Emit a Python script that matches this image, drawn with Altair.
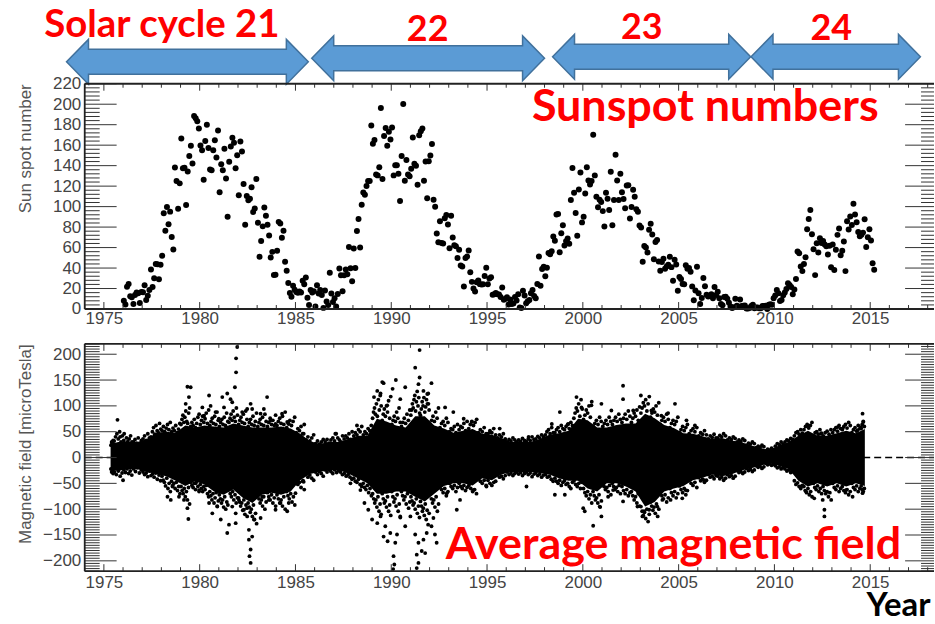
import altair as alt
import pandas as pd

# ================= DATA =================
cycle_labels = ["Solar cycle 21", "22", "23", "24"]
cycle_start = [1973.05, 1985.85, 1998.42, 2008.78]
cycle_end = [1985.67, 1998.0, 2008.76, 2017.62]

# monthly sunspot numbers (Jan..Dec)
sunspot_1976_1985 = {
    1976: [8.1, 4.3, 21.7, 24.5, 12.5, 11.4, 5.0, 13.6, 16.2, 15.5, 5.8, 16.6],
    1977: [16.4, 23.1, 8.7, 12.9, 18.6, 38.5, 21.4, 30.1, 44.0, 43.8, 29.1, 43.2],
    1978: [51.9, 93.6, 76.5, 99.7, 82.7, 95.1, 70.4, 58.1, 138.2, 125.1, 97.9, 122.7],
    1979: [166.6, 137.5, 138.0, 101.5, 134.4, 149.5, 159.4, 142.2, 188.4, 186.2, 183.3, 176.3],
    1980: [159.6, 155.0, 126.2, 164.1, 179.9, 157.3, 136.3, 135.4, 155.0, 164.7, 147.9, 174.4],
    1981: [114.0, 141.3, 135.5, 156.4, 127.5, 90.0, 143.8, 158.7, 167.3, 162.4, 137.5, 150.1],
    1982: [111.2, 163.6, 153.8, 122.0, 82.2, 110.4, 106.1, 107.6, 118.8, 94.7, 98.1, 127.0],
    1983: [84.3, 51.0, 66.5, 80.7, 99.2, 91.1, 82.2, 71.8, 50.3, 55.8, 33.3, 33.4],
    1984: [57.0, 85.1, 83.5, 69.7, 76.4, 46.1, 37.4, 25.5, 15.7, 12.0, 22.8, 18.7],
    1985: [16.5, 15.9, 17.2, 16.2, 27.5, 24.2, 30.7, 11.1, 3.9, 18.6, 16.2, 17.3],
}
sunspot_1986_1995 = {
    1986: [2.5, 23.2, 15.1, 18.5, 13.7, 1.1, 18.1, 7.4, 3.8, 35.4, 15.2, 6.8],
    1987: [10.4, 2.4, 14.7, 39.6, 33.0, 17.4, 33.0, 38.7, 33.9, 60.6, 39.9, 27.1],
    1988: [59.0, 40.0, 76.2, 88.0, 60.1, 101.8, 113.8, 111.6, 120.1, 125.1, 125.1, 179.2],
    1989: [161.3, 165.1, 131.4, 130.5, 138.5, 196.2, 126.9, 168.9, 176.7, 159.4, 173.0, 165.5],
    1990: [177.3, 130.5, 140.3, 140.3, 132.2, 105.4, 149.4, 200.3, 125.2, 145.5, 131.4, 129.7],
    1991: [136.9, 167.5, 141.9, 140.0, 121.3, 169.7, 173.7, 176.3, 125.3, 144.1, 108.2, 144.4],
    1992: [150.0, 161.1, 106.7, 99.8, 73.8, 65.2, 85.7, 64.5, 63.9, 88.7, 91.8, 82.6],
    1993: [59.3, 91.0, 69.8, 62.2, 61.3, 49.8, 57.9, 42.4, 41.6, 22.0, 49.9, 51.3],
    1994: [57.2, 35.8, 26.5, 20.0, 17.2, 26.1, 27.9, 24.3, 24.0, 24.1, 32.3, 40.3],
    1995: [24.2, 29.9, 31.1, 14.0, 14.5, 15.6, 14.5, 14.3, 11.8, 21.1, 9.0, 10.0],
}
sunspot_1996_2005 = {
    1996: [11.5, 4.4, 9.2, 4.8, 5.5, 11.8, 8.2, 14.4, 1.6, 0.9, 17.9, 13.3],
    1997: [5.7, 7.6, 8.7, 15.5, 18.5, 12.7, 10.4, 24.4, 51.3, 22.8, 39.0, 41.2],
    1998: [31.9, 40.3, 54.8, 53.4, 56.3, 70.7, 66.6, 92.2, 92.9, 55.5, 74.0, 81.9],
    1999: [62.0, 66.3, 68.8, 63.7, 106.4, 137.7, 113.5, 93.7, 71.5, 116.7, 133.2, 84.6],
    2000: [90.1, 112.9, 138.5, 125.5, 121.6, 124.9, 170.1, 130.5, 109.7, 99.4, 106.8, 104.4],
    2001: [95.6, 80.6, 113.5, 107.7, 96.6, 134.0, 81.8, 106.4, 150.7, 125.5, 106.5, 132.2],
    2002: [114.1, 107.4, 98.4, 120.7, 120.8, 88.3, 99.6, 116.4, 109.6, 97.5, 95.0, 81.6],
    2003: [79.5, 46.2, 61.5, 60.0, 55.2, 77.4, 83.3, 72.7, 48.7, 65.5, 67.3, 46.5],
    2004: [37.3, 45.8, 49.1, 39.3, 41.5, 43.2, 51.1, 40.9, 27.7, 48.0, 43.5, 17.9],
    2005: [31.3, 29.2, 24.5, 24.2, 42.7, 39.3, 40.1, 36.4, 22.1, 8.5, 18.0, 41.2],
}
sunspot_2006_2015 = {
    2006: [15.4, 5.0, 10.8, 30.2, 22.2, 13.9, 12.2, 12.9, 14.4, 10.4, 21.5, 13.6],
    2007: [16.9, 10.6, 4.8, 3.7, 11.7, 12.0, 10.0, 6.2, 2.4, 0.9, 1.7, 10.1],
    2008: [3.3, 2.1, 9.3, 2.9, 3.2, 3.4, 0.5, 0.5, 1.1, 2.9, 4.1, 0.8],
    2009: [1.5, 1.4, 0.7, 0.8, 2.9, 2.9, 3.2, 0.0, 4.2, 4.6, 4.2, 10.6],
    2010: [13.1, 18.6, 15.4, 7.9, 8.8, 13.5, 16.1, 19.6, 25.2, 23.5, 21.6, 14.5],
    2011: [19.0, 29.4, 56.2, 54.4, 41.6, 37.0, 43.9, 50.6, 78.0, 88.0, 96.7, 73.0],
    2012: [58.3, 33.1, 64.2, 55.2, 69.0, 64.5, 66.5, 63.0, 61.4, 53.3, 61.8, 40.8],
    2013: [62.9, 38.0, 57.9, 72.4, 78.7, 52.5, 57.0, 66.0, 37.0, 85.6, 77.6, 90.3],
    2014: [82.0, 102.8, 92.2, 84.7, 75.2, 71.0, 72.4, 74.6, 87.6, 60.6, 70.1, 78.0],
    2015: [67.0, 44.8, 38.4],
}

# magnetic field: black core of the daily cloud, per half year (centre year, lower, upper), microTesla
mag_core_c21 = [
    (1975.35, -24, 26), (1975.75, -26, 30), (1976.25, -22, 30), (1976.75, -22, 30),
    (1977.25, -28, 36), (1977.75, -32, 48), (1978.25, -36, 50), (1978.75, -45, 48),
    (1979.25, -55, 62), (1979.75, -46, 58), (1980.25, -52, 62), (1980.75, -66, 60),
    (1981.25, -72, 58), (1981.75, -62, 66), (1982.25, -78, 62), (1982.75, -88, 58),
    (1983.25, -72, 58), (1983.75, -68, 58), (1984.25, -72, 60), (1984.75, -66, 56),
    (1985.25, -44, 46), (1985.75, -32, 32),
]
mag_core_c22 = [
    (1986.25, -28, 26), (1986.75, -24, 30), (1987.25, -24, 30), (1987.75, -31, 36),
    (1988.25, -40, 42), (1988.75, -50, 42), (1989.25, -70, 75), (1989.75, -70, 70),
    (1990.25, -66, 62), (1990.75, -66, 58), (1991.25, -76, 80), (1991.75, -85, 80),
    (1992.25, -70, 62), (1992.75, -55, 56), (1993.25, -50, 48), (1993.75, -50, 52),
    (1994.25, -54, 55), (1994.75, -40, 46), (1995.25, -44, 44), (1995.75, -33, 38),
]
mag_core_c23 = [
    (1996.25, -28, 30), (1996.75, -28, 30), (1997.25, -28, 30), (1997.75, -30, 36),
    (1998.25, -33, 44), (1998.75, -40, 47), (1999.25, -45, 52), (1999.75, -45, 75),
    (2000.25, -60, 72), (2000.75, -66, 58), (2001.25, -50, 58), (2001.75, -50, 63),
    (2002.25, -56, 66), (2002.75, -66, 66), (2003.25, -95, 85), (2003.75, -86, 76),
    (2004.25, -66, 63), (2004.75, -60, 57), (2005.25, -55, 47), (2005.75, -44, 46),
    (2006.25, -39, 41), (2006.75, -33, 36),
]
mag_core_c24 = [
    (2007.25, -36, 38), (2007.75, -33, 33), (2008.25, -25, 30), (2008.75, -21, 24),
    (2009.25, -16, 19), (2009.75, -11, 13), (2010.25, -16, 24), (2010.75, -22, 30),
    (2011.25, -45, 42), (2011.75, -56, 52), (2012.25, -50, 42), (2012.75, -56, 42),
    (2013.25, -50, 47), (2013.75, -56, 52), (2014.25, -50, 47), (2014.72, -55, 55),
]
MAG_END = 2014.72  # last day of the magnetic-field record

# magnetic field: ragged edge of the cloud, per half-year bin start: (upper days, lower days)
mag_edge_c21 = {
    1975.35: ([24, 30, 27, 33], [-22, -28, -25, -31]),
    1975.5: ([32, 40, 46, 36, 50, 30, 42], [-28, -33, -26, -36, -30]),
    1976.0: ([33, 28, 38, 31, 36, 42, 30], [-24, -29, -22, -31, -26, -34]),
    1976.5: ([30, 35, 28, 38, 26, 33], [-22, -27, -20, -30, -24]),
    1977.0: ([36, 42, 33, 46, 38, 40], [-28, -33, -30, -37, -26, -35]),
    1977.5: ([50, 58, 45, 62, 52, 48, 66, 55], [-32, -38, -30, -42, -34, -45]),
    1978.0: ([52, 60, 50, 57, 64, 54, 68], [-36, -44, -48, -55, -40, -60, -50, -66]),
    1978.5: ([50, 57, 52, 62, 48, 55, 66], [-46, -54, -50, -60, -48, -64, -56, -70]),
    1979.0: ([64, 74, 82, 68, 78, 90, 70, 66, 86, 96], [-56, -64, -70, -60, -76, -66, -82, -58, -90]),
    1979.5: ([60, 68, 62, 74, 58, 66, 78, 84], [-48, -54, -58, -50, -62, -46, -56, -66]),
    1980.0: ([64, 72, 80, 68, 75, 86, 66, 92], [-52, -60, -66, -56, -62, -54, -70, -76]),
    1980.5: ([62, 70, 76, 66, 80, 64, 88, 72], [-66, -74, -82, -70, -88, -78, -68, -94, -84]),
    1981.0: ([60, 68, 74, 64, 78, 62, 86, 70], [-72, -80, -88, -82, -96, -76, -100, -86, -92]),
    1981.5: ([68, 76, 84, 72, 90, 78, 70, 96, 82], [-62, -70, -76, -66, -82, -72, -88, -78]),
    1982.0: ([64, 72, 78, 68, 84, 66, 90, 74], [-78, -86, -94, -88, -102, -82, -110, -92, -98]),
    1982.5: ([60, 68, 74, 64, 80, 62, 70, 86], [-88, -96, -106, -100, -114, -92, -120, -108, -128]),
    1983.0: ([60, 68, 74, 64, 78, 62, 84, 70], [-72, -80, -88, -82, -94, -76, -100, -86]),
    1983.5: ([60, 68, 76, 64, 72, 62, 82], [-68, -76, -82, -72, -88, -78, -94]),
    1984.0: ([62, 70, 76, 66, 80, 64, 88], [-72, -80, -88, -82, -94, -76, -100]),
    1984.5: ([58, 66, 72, 62, 70, 78], [-66, -74, -80, -70, -86, -76, -92]),
    1985.0: ([48, 56, 52, 60, 46, 64], [-44, -52, -48, -58, -46, -62]),
    1985.5: ([34, 40, 32, 38, 44], [-32, -38, -34, -40, -44]),
}
mag_edge_c22 = {
    1986.0: ([27, 32, 26, 30, 35], [-28, -33, -27, -31, -36]),
    1986.5: ([30, 35, 28, 34, 38], [-24, -28, -23, -27, -31]),
    1987.0: ([32, 46, 38, 34, 30, 42], [-24, -29, -25, -28, -33]),
    1987.5: ([36, 42, 38, 46, 35, 50], [-31, -36, -33, -38, -42]),
    1988.0: ([42, 48, 44, 54, 50, 60], [-40, -46, -48, -42, -52, -56]),
    1988.5: ([44, 50, 46, 56, 52, 62], [-50, -58, -62, -54, -68, -60, -74]),
    1989.0: ([76, 88, 96, 84, 104, 80, 112, 92, 120, 100], [-70, -80, -88, -82, -96, -76, -104, -90, -110]),
    1989.5: ([72, 84, 94, 80, 100, 88, 110, 76, 118], [-70, -80, -88, -84, -96, -76, -104, -92, -112]),
    1990.0: ([64, 72, 80, 70, 88, 76, 96, 68], [-66, -76, -86, -80, -94, -72, -104, -90, -116]),
    1990.5: ([60, 68, 76, 66, 84, 72, 92], [-66, -74, -82, -76, -90, -70, -98, -86]),
    1991.0: ([82, 92, 104, 96, 112, 120, 90, 108, 128, 100, 116, 86], [-76, -84, -92, -88, -100, -80, -108, -94, -116]),
    1991.5: ([82, 94, 108, 100, 116, 88, 98, 112, 104, 124, 92], [-85, -94, -104, -98, -112, -90, -120, -102, -130, -108]),
    1992.0: ([64, 72, 80, 70, 88, 76, 96], [-70, -80, -88, -82, -96, -76, -104, -90]),
    1992.5: ([58, 66, 70, 62, 76, 68], [-55, -62, -68, -60, -74, -66]),
    1993.0: ([50, 56, 54, 60, 48, 64], [-50, -56, -60, -54, -66, -58]),
    1993.5: ([54, 60, 58, 66, 52, 70], [-50, -56, -60, -54, -64, -58]),
    1994.0: ([56, 64, 70, 62, 68, 74], [-54, -60, -66, -62, -70]),
    1994.5: ([48, 54, 50, 58, 46], [-40, -46, -50, -44, -54]),
    1995.0: ([46, 52, 48, 56, 44], [-44, -50, -54, -48, -46]),
    1995.5: ([38, 44, 40, 46, 36], [-33, -38, -36, -41, -35]),
}
mag_edge_c23 = {
    1996.0: ([30, 35, 32, 38, 34], [-28, -33, -30, -35, -31]),
    1996.5: ([30, 34, 31, 37, 33], [-28, -32, -29, -35, -31]),
    1997.0: ([31, 36, 33, 40, 35], [-28, -33, -30, -37, -32]),
    1997.5: ([36, 41, 38, 44, 40], [-30, -35, -32, -38, -34]),
    1998.0: ([44, 50, 54, 46, 58, 48], [-33, -38, -36, -42, -46]),
    1998.5: ([48, 54, 58, 50, 62, 56], [-40, -46, -50, -44, -54, -48]),
    1999.0: ([54, 60, 64, 56, 68, 62], [-45, -52, -50, -56, -60, -48]),
    1999.5: ([76, 86, 96, 90, 104, 80, 112, 94], [-45, -52, -56, -50, -60, -48]),
    2000.0: ([74, 82, 92, 86, 100, 78, 108], [-60, -68, -74, -66, -80, -72, -88]),
    2000.5: ([60, 66, 72, 64, 78, 70], [-66, -74, -82, -78, -88, -72, -96, -84]),
    2001.0: ([60, 66, 72, 64, 78, 70], [-50, -56, -62, -58, -66, -54, -72]),
    2001.5: ([64, 72, 78, 70, 84, 74], [-50, -56, -62, -58, -66, -54, -70]),
    2002.0: ([68, 76, 84, 74, 90, 80], [-56, -64, -70, -62, -74, -68]),
    2002.5: ([68, 76, 86, 80, 92, 72, 98], [-66, -74, -82, -76, -88, -70, -94]),
    2003.0: ([86, 96, 106, 100, 112, 90, 104, 118], [-95, -104, -112, -106, -118, -100, -124, -110]),
    2003.5: ([78, 86, 94, 88, 100, 82, 106], [-86, -94, -102, -96, -108, -90, -114, -100]),
    2004.0: ([64, 72, 78, 70, 84, 74], [-66, -74, -80, -72, -86, -78]),
    2004.5: ([58, 66, 72, 64, 70, 78], [-60, -68, -74, -66, -78, -70]),
    2005.0: ([48, 54, 60, 52, 58, 64], [-55, -62, -68, -60, -72, -64]),
    2005.5: ([46, 52, 56, 50, 58], [-44, -50, -54, -48, -58]),
    2006.0: ([42, 48, 45, 52, 44], [-39, -45, -42, -48, -44]),
    2006.5: ([36, 42, 39, 45, 38], [-33, -38, -36, -41, -35]),
}
mag_edge_c24 = {
    2007.0: ([38, 43, 40, 46, 42], [-36, -41, -38, -44, -40]),
    2007.5: ([34, 38, 35, 40, 37], [-33, -37, -35, -40, -36]),
    2008.0: ([30, 34, 31, 36, 33], [-25, -29, -27, -31, -28]),
    2008.5: ([24, 28, 26, 30, 27], [-21, -25, -23, -27, -24]),
    2009.0: ([19, 22, 20, 24, 21], [-16, -19, -17, -21, -18]),
    2009.5: ([13, 16, 14, 18, 15], [-11, -14, -12, -15, -13]),
    2010.0: ([22, 27, 25, 30, 26], [-16, -20, -18, -22, -19]),
    2010.5: ([30, 34, 32, 37, 35], [-22, -26, -24, -29, -27]),
    2011.0: ([42, 48, 50, 45, 54, 47], [-45, -52, -49, -56, -60, -54]),
    2011.5: ([54, 60, 64, 57, 62, 68], [-56, -64, -68, -60, -72, -66, -76]),
    2012.0: ([42, 48, 50, 45, 54, 47], [-50, -58, -62, -55, -66, -60, -70]),
    2012.5: ([42, 48, 51, 45, 54], [-56, -64, -70, -66, -76, -68, -82]),
    2013.0: ([48, 54, 58, 51, 62, 56], [-50, -58, -62, -55, -66, -60]),
    2013.5: ([54, 60, 64, 57, 68, 62], [-56, -64, -68, -62, -72, -66]),
    2014.0: ([48, 54, 58, 51, 62, 56], [-50, -58, -62, -55, -66, -60]),
    2014.5: ([56, 64, 70, 60], [-55, -62, -66, -60]),
}

# magnetic field: single days standing out of the cloud (year, microTesla)
mag_dots_c21 = [
    (1975.45, 27), (1975.71, 73), (1976.0, -44), (1976.06, 46), (1975.85, 40),
    (1979.36, 137), (1979.53, 136), (1979.44, 117), (1979.27, 104), (1979.41, -119),
    (1978.32, -76), (1978.49, -82), (1980.49, 120), (1980.14, 97), (1980.23, 81),
    (1980.57, 100), (1980.83, 88), (1981.27, 97), (1981.0, 75),
    (1981.18, 117), (1981.44, 124), (1981.61, 113), (1981.96, 214), (1981.9, 192),
    (1981.9, 165), (1981.84, 136), (1981.7, 107), (1982.66, 104), (1982.74, 94),
    (1982.48, 94), (1982.22, 88), (1983.35, 94), (1983.96, 65), (1984.57, 69),
    (1983.52, 117), (1983.18, 85), (1984.3, 85), (1983.7, 72), (1984.65, 65),
    (1985.43, 46), (1985.69, 27), (1985.43, -47),
    (1981.44, -146), (1981.53, -130), (1981.1, -120), (1981.88, -108), (1981.88, -127),
    (1982.31, -101), (1982.48, -114), (1982.57, -140), (1982.57, -159), (1982.66, -178),
    (1982.6, -191), (1982.66, -204), (1982.74, -153), (1982.83, -120), (1983.18, -117),
    (1981.7, -95), (1982.05, -82), (1980.66, -108), (1980.92, -95), (1980.49, -88),
    (1979.36, -98), (1979.18, -82), (1978.92, -76), (1978.58, -56), (1983.96, -101),
    (1984.22, -88), (1984.57, -104), (1984.65, -88), (1985.0, -69), (1983.61, -82),
    (1983.26, -76), (1979.97, -63), (1979.79, -50),
]
mag_dots_c22 = [
    (1991.48, 208), (1991.25, 174), (1991.48, 155), (1991.42, 142), (1989.53, 146),
    (1989.6, 144), (1989.27, 129), (1989.44, 124), (1990.24, 150), (1990.07, 133),
    (1990.73, 136), (1991.88, 123), (1992.1, 144), (1991.68, 129), (1991.94, 104),
    (1992.81, 97), (1990.47, 113), (1989.1, 117), (1989.79, 101), (1988.21, 62),
    (1987.08, 46), (1993.24, 88), (1994.2, 69), (1995.16, 49), (1995.66, 56), (1993.78, 75),
    (1990.12, -191), (1990.16, -207), (1990.1, -216), (1990.21, -165), (1990.3, -149),
    (1989.95, -146), (1989.69, -133), (1989.6, -153), (1989.81, -162), (1991.42, -165),
    (1991.33, -188), (1991.59, -181), (1991.77, -185), (1991.42, -204), (1991.33, -214),
    (1991.25, -149), (1991.68, -159), (1991.85, -146), (1992.1, -133), (1992.37, -165),
    (1992.28, -149), (1992.2, -117), (1990.73, -133), (1991.0, -114), (1990.47, -114),
    (1988.8, -101), (1989.0, -120), (1989.27, -127), (1989.44, -114), (1988.6, -88),
    (1985.4, -45), (1988.39, -63), (1987.87, -50), (1992.9, -69), (1993.42, -101),
    (1993.59, -82), (1994.28, -63), (1994.97, -56),
]
mag_dots_c23 = [
    (2002.1, 139), (2003.03, 120), (1999.67, 117), (2000.97, 104), (2000.45, 101),
    (1998.8, 88), (2004.81, 104), (2002.1, 113), (2002.63, 91), (2003.58, 91),
    (1999.93, 97), (2001.49, 91), (2004.1, 81), (2004.45, 86), (2005.85, 62),
    (2005.41, 72), (1999.24, 65), (1998.38, 65), (1997.17, 40),
    (2000.54, -132), (2000.02, -98), (2000.1, -104), (2000.97, -114), (2000.88, -95),
    (2002.1, -85), (1999.06, -72), (1998.54, -72), (1997.06, -56), (2003.11, -114),
    (2003.2, -104), (2003.46, -101), (2002.85, -95), (2003.89, -95), (2004.15, -82),
    (2004.58, -82), (2005.19, -79), (2005.36, -63), (2006.32, -44), (2001.32, -76),
    (2001.58, -63),
]
mag_dots_c24 = [
    (2014.6, 85), (2014.64, 69), (2014.52, 59), (2011.74, 62), (2012.43, 46),
    (2013.3, 59), (2013.56, 56), (2014.34, 53), (2012.61, -101), (2012.61, -114),
    (2012.52, -82), (2012.08, -79), (2014.6, -69), (2014.08, -76), (2013.73, -63),
    (2011.39, -56), (2011.65, -66),
]

x_tick_labels = [1975, 1980, 1985, 1990, 1995, 2000, 2005, 2010, 2015]
sun_y_ticks = [0, 20, 40, 60, 80, 100, 120, 140, 160, 180, 200, 220]
mag_y_ticks = [-200, -150, -100, -50, 0, 50, 100, 150, 200]

# ================= LAYOUT / STYLE =================
X0, X1 = 1974.0, 2018.33
W = 852
BAND_H, TOP_H, BOT_H = 83, 226, 228
GAP = 35
PXX = (X1 - X0) / W
TOP_MIN, TOP_MAX = 0, 220
BOT_MIN, BOT_MAX = -220, 220
PXY_TOP = (TOP_MAX - TOP_MIN) / TOP_H
PXY_BOT = (BOT_MAX - BOT_MIN) / BOT_H

LBL_FONT = "Liberation Sans"
LBL_COLOR = "#444444"
RED = "#FF0000"
FRAME = "#222222"
TXT_FONT = "Lato"

xs = alt.Scale(domain=[X0, X1], nice=False, zero=False)
ys_top = alt.Scale(domain=[TOP_MIN, TOP_MAX], nice=False, zero=False)
ys_bot = alt.Scale(domain=[BOT_MIN, BOT_MAX], nice=False, zero=False)
ys_band = alt.Scale(domain=[0, BAND_H], nice=False, zero=False)


def x_axis(pad):
    return alt.Axis(values=x_tick_labels, format="d", title=None, ticks=False,
                    domain=False, grid=False, labelFont=LBL_FONT, labelFontSize=17,
                    labelColor=LBL_COLOR, labelPadding=pad, labelFlush=False,
                    labelOverlap=False)


def y_axis(vals, title):
    return alt.Axis(values=vals, title=title, ticks=False, domain=False, grid=False,
                    labelFont=LBL_FONT, labelFontSize=17, labelColor=LBL_COLOR,
                    labelPadding=4, labelFlush=False, labelOverlap=False,
                    titleFont=LBL_FONT, titleFontSize=17, titleFontWeight="normal",
                    titleColor="#555555", titleAnchor="end", titleAngle=270,
                    titleBaseline="middle", titleX=-59)


ax_x_top = x_axis(2)
ax_x_bot = x_axis(3)
ax_y_top = y_axis(sun_y_ticks, "Sun spot number")
ax_y_bot = y_axis(mag_y_ticks, "Magnetic field [microTesla]")


def tick_frame(ymin, ymax, pxy, majors, minors):
    rows = []
    for v in majors:
        rows.append(dict(x0=X0, x1=X0 + 32 * PXX, y0=v, y1=v))
        rows.append(dict(x0=X1 - 29 * PXX, x1=X1, y0=v, y1=v))
    for v in minors:
        rows.append(dict(x0=X0, x1=X0 + 15 * PXX, y0=v, y1=v))
        rows.append(dict(x0=X1 - 13 * PXX, x1=X1, y0=v, y1=v))
    for yr in range(1974, 2019):
        L = 7 if yr % 5 == 0 else 4
        rows.append(dict(x0=yr, x1=yr, y0=ymax, y1=ymax - L * pxy))
        rows.append(dict(x0=yr, x1=yr, y0=ymin, y1=ymin + L * pxy))
    ticks = pd.DataFrame(rows)
    frame = pd.DataFrame([
        dict(x0=X0, x1=X1, y0=ymax, y1=ymax),
        dict(x0=X0, x1=X1, y0=ymin, y1=ymin),
        dict(x0=X0, x1=X0, y0=ymin, y1=ymax),
    ])
    return ticks, frame


def rule_layers(ticks, frame, ys, axx, axy):
    enc = dict(
        x=alt.X("x0:Q", scale=xs, axis=axx), x2="x1:Q",
        y=alt.Y("y0:Q", scale=ys, axis=axy), y2="y1:Q",
    )
    t = alt.Chart(ticks).mark_rule(color="#333333", strokeWidth=1).encode(**enc)
    f = alt.Chart(frame).mark_rule(color=FRAME, strokeWidth=1.8).encode(**enc)
    return [t, f]


# ---------- top panel ----------
ss_rows = []
for block in (sunspot_1976_1985, sunspot_1986_1995, sunspot_1996_2005, sunspot_2006_2015):
    for yr, vals in block.items():
        for m, v in enumerate(vals):
            ss_rows.append({"year": yr + (m + 0.5) / 12.0, "ssn": v})
ss_df = pd.DataFrame(ss_rows)

top_pts = alt.Chart(ss_df).mark_circle(size=36, color="black", opacity=1).encode(
    x=alt.X("year:Q", scale=xs, axis=ax_x_top),
    y=alt.Y("ssn:Q", scale=ys_top, axis=ax_y_top),
)
top_minor = [v for v in range(0, 221, 4) if v % 20 != 0]
tt, tf = tick_frame(TOP_MIN, TOP_MAX, PXY_TOP, sun_y_ticks, top_minor)
top_lbl = alt.Chart(pd.DataFrame([{"x": 2006.39, "y": 184.0, "t": "Sunspot numbers"}])).mark_text(
    font=TXT_FONT, fontWeight="bold", fontSize=45, color=RED, align="center", baseline="alphabetic"
).encode(
    x=alt.X("x:Q", scale=xs, axis=ax_x_top),
    y=alt.Y("y:Q", scale=ys_top, axis=ax_y_top),
    text="t:N",
)
top = alt.layer(top_pts, *rule_layers(tt, tf, ys_top, ax_x_top, ax_y_top), top_lbl).properties(
    width=W, height=TOP_H
)

# ---------- bottom panel ----------
core_df = pd.DataFrame(mag_core_c21 + mag_core_c22 + mag_core_c23 + mag_core_c24,
                       columns=["year", "lo", "hi"])

edge_rows = []
for block in (mag_edge_c21, mag_edge_c22, mag_edge_c23, mag_edge_c24):
    for start, (ups, downs) in block.items():
        edge_rows.append((start, ups, downs))
edge_rows.sort(key=lambda r: r[0])
dot_rows = []
for i, (start, ups, downs) in enumerate(edge_rows):
    end = edge_rows[i + 1][0] if i + 1 < len(edge_rows) else MAG_END
    for vals in (ups, downs):
        n = len(vals)
        for j, v in enumerate(vals):
            dot_rows.append({"year": start + (j + 0.5) * (end - start) / n, "b": v})
for yr, v in mag_dots_c21 + mag_dots_c22 + mag_dots_c23 + mag_dots_c24:
    dot_rows.append({"year": yr, "b": v})
dots_df = pd.DataFrame(dot_rows)
zero_df = pd.DataFrame([{"x0": X0, "x1": X1, "y0": 0}])

zero_line = alt.Chart(zero_df).mark_rule(color="black", strokeWidth=1.6, strokeDash=[7, 4]).encode(
    x=alt.X("x0:Q", scale=xs, axis=ax_x_bot), x2="x1:Q",
    y=alt.Y("y0:Q", scale=ys_bot, axis=ax_y_bot),
)
core = alt.Chart(core_df).mark_area(color="black", opacity=1, orient="vertical").encode(
    x=alt.X("year:Q", scale=xs, axis=ax_x_bot),
    y=alt.Y("lo:Q", scale=ys_bot, axis=ax_y_bot), y2="hi:Q",
)
dots = alt.Chart(dots_df).mark_circle(size=15, color="black", opacity=1).encode(
    x=alt.X("year:Q", scale=xs, axis=ax_x_bot),
    y=alt.Y("b:Q", scale=ys_bot, axis=ax_y_bot),
)
bot_minor = [v for v in range(-220, 221, 5) if v % 50 != 0]
bt, bf = tick_frame(BOT_MIN, BOT_MAX, PXY_BOT, mag_y_ticks, bot_minor)
bot_lbl = alt.Chart(pd.DataFrame([{"x": 2004.73, "y": -196.8, "t": "Average magnetic field"}])).mark_text(
    font=TXT_FONT, fontWeight="bold", color=RED, align="center", baseline="alphabetic", fontSize=45
).encode(
    x=alt.X("x:Q", scale=xs, axis=ax_x_bot),
    y=alt.Y("y:Q", scale=ys_bot, axis=ax_y_bot),
    text="t:N",
)
year_lbl = alt.Chart(pd.DataFrame([{"x": 2018.15, "y": -306.5, "t": "Year"}])).mark_text(
    font=TXT_FONT, fontWeight="bold", color="black", align="right", baseline="alphabetic", fontSize=33
).encode(
    x=alt.X("x:Q", scale=xs, axis=ax_x_bot),
    y=alt.Y("y:Q", scale=ys_bot, axis=ax_y_bot),
    text="t:N",
)
bottom = alt.layer(zero_line, core, dots, *rule_layers(bt, bf, ys_bot, ax_x_bot, ax_y_bot),
                   bot_lbl, year_lbl).properties(width=W, height=BOT_H)

# ---------- band with cycle arrows ----------
arrow_center = [22.0, 25.5, 27.0, 27.0]   # height of each arrow's axis above the top frame (px)
HEAD_HALF, BODY_HALF, HEAD_LEN, EPS = 22.5, 12.5, 22 * PXX, 0.002
arr_rows = []
for i, (s, e) in enumerate(zip(cycle_start, cycle_end)):
    c = arrow_center[i]
    pts = [(s, c, c), (s + HEAD_LEN, c + HEAD_HALF, c - HEAD_HALF),
           (s + HEAD_LEN + EPS, c + BODY_HALF, c - BODY_HALF),
           (e - HEAD_LEN - EPS, c + BODY_HALF, c - BODY_HALF),
           (e - HEAD_LEN, c + HEAD_HALF, c - HEAD_HALF), (e, c, c)]
    for k, (x, yt, yb) in enumerate(pts):
        arr_rows.append({"cycle": cycle_labels[i], "k": k, "x": x, "yt": yt, "yb": yb})
arr_df = pd.DataFrame(arr_rows)

arrows = alt.Chart(arr_df).mark_area(fill="#5B9BD5", stroke="#41719C", strokeWidth=1.5,
                                     opacity=1, interpolate="linear", orient="vertical").encode(
    x=alt.X("x:Q", scale=xs, axis=None),
    y=alt.Y("yt:Q", scale=ys_band, axis=None), y2="yb:Q",
    detail="cycle:N",
)
label_x = [1978.03, 1991.9, 2003.08, 2012.97]
label_up = [47.0, 43.0, 45.0, 44.0]
label_size = [38.5, 36, 36, 36]
lab_df = pd.DataFrame({"t": cycle_labels, "x": label_x, "y": label_up, "fs": label_size})
band_text = alt.Chart(lab_df).mark_text(
    font=TXT_FONT, fontWeight="bold", color=RED, align="center", baseline="alphabetic"
).encode(
    x=alt.X("x:Q", scale=xs, axis=None),
    y=alt.Y("y:Q", scale=ys_band, axis=None),
    text="t:N",
    size=alt.Size("fs:Q", scale=None, legend=None),
)
band = alt.layer(arrows, band_text).properties(width=W, height=BAND_H)

chart = alt.vconcat(
    band,
    alt.vconcat(top, bottom, spacing=GAP, bounds="flush"),
    spacing=0, bounds="flush",
).properties(
    padding={"left": 17, "top": 0, "right": 0, "bottom": 0}
).configure_view(stroke=None)

chart.save("out.html", embed_options={"renderer": "svg", "actions": False})
